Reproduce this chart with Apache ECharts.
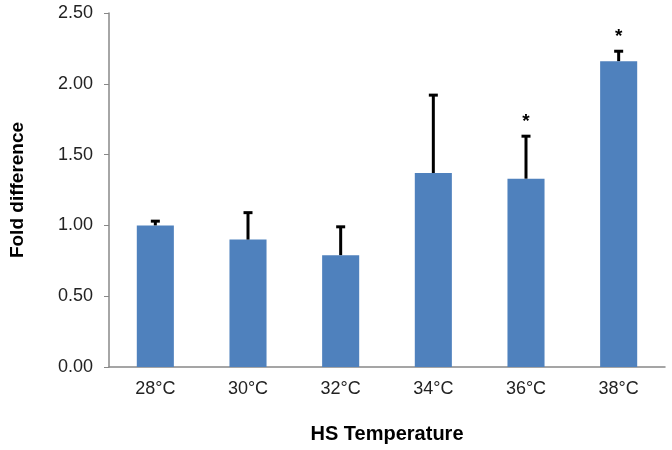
<!DOCTYPE html>
<html lang="en">
<head>
    <meta charset="UTF-8">
    <title>Fold difference</title>
    <script src="https://cdn.jsdelivr.net/npm/echarts@6/dist/echarts.min.js"></script>
    <style>
        body { margin: 0; background: #fff; }
        #main { width: 672px; height: 450px; }
    </style>
</head>
<body>
<div id="main"></div>
<script>
    // 数据
    var categories = ['28°C', '30°C', '32°C', '34°C', '36°C', '38°C'];
    var foldValues = [1.00, 0.90, 0.79, 1.37, 1.33, 2.16];
    var errorTops = [1.03, 1.09, 0.99, 1.92, 1.63, 2.23];
    var significant = [false, false, false, false, true, true];

    var chart = echarts.init(document.getElementById('main'));

    // 误差线数据 [index, mean, top, 显著]
    var errData = [];
    for (var i = 0; i < categories.length; i++) {
        errData.push([i, foldValues[i], errorTops[i], significant[i] ? 1 : 0]);
    }

    function renderError(params, api) {
        var x = api.value(0);
        var base = api.coord([x, api.value(1)]);
        var top = api.coord([x, api.value(2)]);
        var cap = 4.5;
        var children = [
            {
                type: 'line',
                shape: { x1: base[0], y1: base[1], x2: top[0], y2: top[1] },
                style: { stroke: '#000', lineWidth: 3 }
            },
            {
                type: 'line',
                shape: { x1: top[0] - cap, y1: top[1], x2: top[0] + cap, y2: top[1] },
                style: { stroke: '#000', lineWidth: 3 }
            }
        ];
        if (api.value(3)) {
            children.push({
                type: 'text',
                style: {
                    text: '*',
                    x: top[0],
                    y: top[1] - 5,
                    textAlign: 'center',
                    textVerticalAlign: 'bottom',
                    font: 'bold 19px Arial',
                    fill: '#000'
                }
            });
        }
        return { type: 'group', children: children };
    }

    var option = {
        animation: false,
        grid: { left: 106, right: 7, top: 13, bottom: 83 },
        xAxis: {
            type: 'category',
            data: categories,
            name: 'HS Temperature',
            nameLocation: 'middle',
            nameGap: 57,
            nameTextStyle: { fontFamily: 'Arial', fontWeight: 'bold', fontSize: 20, color: '#000' },
            axisLine: { lineStyle: { color: '#888', width: 1.5 } },
            axisTick: { show: false },
            axisLabel: { fontFamily: 'Arial', fontSize: 18, color: '#222', margin: 13 }
        },
        yAxis: {
            type: 'value',
            min: 0,
            max: 2.5,
            interval: 0.5,
            name: 'Fold difference',
            nameLocation: 'middle',
            nameGap: 82,
            nameTextStyle: { fontFamily: 'Arial', fontWeight: 'bold', fontSize: 19, color: '#000' },
            axisLine: { show: true, lineStyle: { color: '#888', width: 1.5 } },
            axisTick: { show: true, length: 5, lineStyle: { color: '#888' } },
            splitLine: { show: false },
            axisLabel: {
                fontFamily: 'Arial', fontSize: 18, color: '#222', margin: 16,
                formatter: function (v) { return v.toFixed(2); }
            }
        },
        series: [
            {
                type: 'bar',
                data: foldValues,
                barWidth: '40%',
                itemStyle: { color: '#4f81bd' },
                z: 2
            },
            {
                type: 'custom',
                renderItem: renderError,
                data: errData,
                encode: { x: 0, y: [1, 2] },
                z: 3
            }
        ]
    };

    chart.setOption(option);
</script>
</body>
</html>
